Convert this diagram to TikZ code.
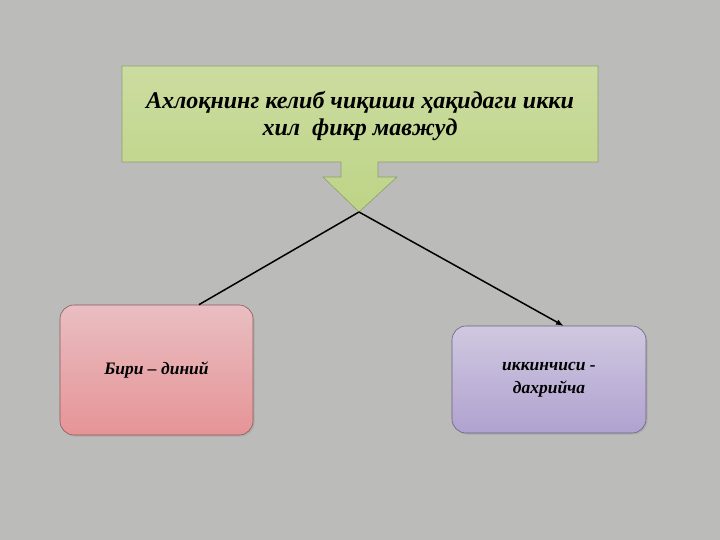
\documentclass[tikz,border=0pt]{standalone}
\usepackage{fontspec}
\setmainfont{Liberation Serif}
\usepackage{xcolor}
\usepackage{tikz}
\usetikzlibrary{calc}
\usetikzlibrary{arrows}
\usetikzlibrary{shapes}
\usetikzlibrary{positioning}
\usetikzlibrary{shadows}

\definecolor{fonGray}{HTML}{BBBBB9}
\definecolor{greenTop}{HTML}{CCDCA0}
\definecolor{greenBot}{HTML}{BDD486}
\definecolor{greenLine}{HTML}{8E9E70}
\definecolor{pinkTop}{HTML}{E9BEC2}
\definecolor{pinkBot}{HTML}{E69496}
\definecolor{violetTop}{HTML}{D0C8E0}
\definecolor{violetBot}{HTML}{B0A2D0}

\tikzset{
 fikrbox/.style={rectangle, rounded corners=14pt, draw=#1, line width=0.6pt,
   drop shadow={shadow xshift=1.5pt, shadow yshift=-1.5pt, opacity=0.25},
   align=center, font=\fontsize{17.5}{23}\selectfont\bfseries\itshape},
 link/.style={draw=black, line width=1.5pt}
}

\begin{document}
\begin{tikzpicture}[x=1pt, y=-1pt]
 \useasboundingbox (0, 0) rectangle (720, 540);
 \fill [fonGray] (0, 0) rectangle (720, 540);
 % yuqoridagi yashil strelka
 \shade [top color=greenTop, bottom color=greenBot, draw=greenLine, line width=0.6pt]
   (122, 66) -- (598, 66) -- (598, 162) -- (378, 162) -- (378, 177) -- (397, 177)
   -- (359, 212) -- (323, 177) -- (341, 177) -- (341, 162) -- (122, 162) -- cycle;
 \coordinate (uchi) at (359, 212);
 \node [align=center, font=\fontsize{24}{27}\selectfont\bfseries\itshape] (sarlavha) at (360, 116)
   {Ахлоқнинг келиб чиқиши ҳақидаги икки\\хил \ фикр мавжуд};
 \node [fikrbox=pinkBot!60!black, top color=pinkTop, bottom color=pinkBot,
   minimum width=193pt, minimum height=130pt] (diniy) at (156.5, 370) {Бири – диний};
 \node [fikrbox=violetBot!60!black, top color=violetTop, bottom color=violetBot,
   minimum width=194pt, minimum height=107pt] (dahriy) at (549, 379.5) {иккинчиси -\\дахрийча};
 \draw [link] (uchi) to (diniy.57);
 \draw [link, -latex] (uchi) to (dahriy.75);
\end{tikzpicture}
\end{document}
